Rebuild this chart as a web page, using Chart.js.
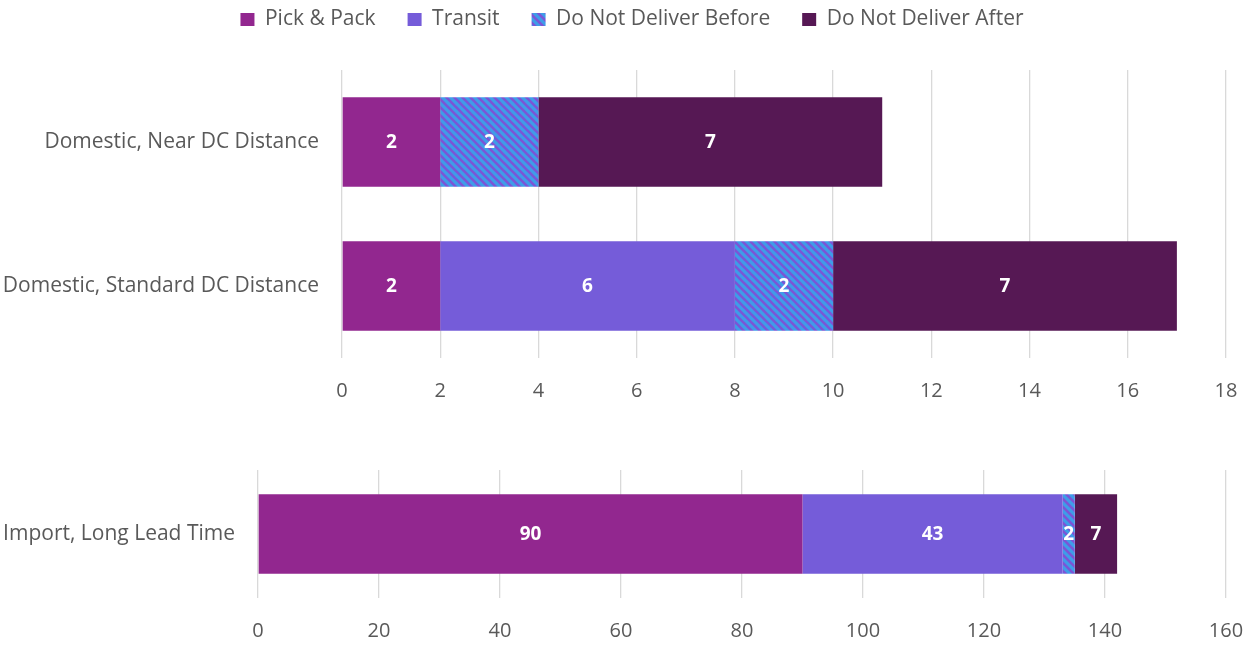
<!DOCTYPE html>
<html>
<head>
<meta charset="utf-8">
<script src="https://cdn.jsdelivr.net/npm/chart.js@4.4.0/dist/chart.umd.min.js"></script>
<style>
  html, body { margin: 0; padding: 0; background: #ffffff; overflow: hidden; }
  body { width: 1254px; height: 645px; position: relative; }
  .box { position: absolute; left: 0; width: 1254px; }
  #topBox { top: -29px; height: 459px; }
  #botBox { top: 460px; height: 205px; }
</style>
</head>
<body>
<div class="box" id="topBox"><canvas id="topChart"></canvas></div>
<div class="box" id="botBox"><canvas id="botChart"></canvas></div>
<script>
// ---- data ----
const seriesNames = ["Pick & Pack", "Transit", "Do Not Deliver Before", "Do Not Deliver After"];

const topCategories = ["Domestic, Near DC Distance", "Domestic, Standard DC Distance"];
const topPickPack = [2, 2];
const topTransit = [0, 6];
const topNotBefore = [2, 2];
const topNotAfter = [7, 7];
const topTicks = [0, 2, 4, 6, 8, 10, 12, 14, 16, 18];

const botCategories = ["Import, Long Lead Time"];
const botPickPack = [90];
const botTransit = [43];
const botNotBefore = [2];
const botNotAfter = [7];
const botTicks = [0, 20, 40, 60, 80, 100, 120, 140, 160];

// ---- styles ----
const FONT = "'Open Sans', 'Noto Sans', sans-serif";
const TEXT = '#595959';
const C_PICK = '#92278F';
const C_TRANSIT = '#755CD9';
const C_AFTER = '#561854';

function stripePattern() {
  const s = 8;
  const c = document.createElement('canvas');
  c.width = s; c.height = s;
  const g = c.getContext('2d');
  g.fillStyle = '#3E9DE8';
  g.fillRect(0, 0, s, s);
  g.strokeStyle = '#7B55D6';
  g.lineWidth = 2.6;
  for (const k of [-s, 0, s]) {
    g.beginPath();
    g.moveTo(k - 1, -1);
    g.lineTo(k + s + 1, s + 1);
    g.stroke();
  }
  return g.createPattern(c, 'repeat');
}
const PATTERN = stripePattern();

const valueLabels = {
  id: 'valueLabels',
  afterDatasetsDraw(chart) {
    const ctx = chart.ctx;
    ctx.save();
    ctx.fillStyle = '#ffffff';
    ctx.font = 'bold 19px ' + FONT;
    ctx.textAlign = 'center';
    ctx.textBaseline = 'middle';
    chart.data.datasets.forEach((ds, di) => {
      const meta = chart.getDatasetMeta(di);
      meta.data.forEach((el, i) => {
        const v = ds.data[i];
        if (!v) return;
        const p = el.getCenterPoint();
        ctx.fillText(String(v), p.x, p.y + 1);
      });
    });
    ctx.restore();
  }
};

// fixes the legend block height (so the plot area starts where wanted) and nudges it
function legendPlace(h, dx, dy) {
  return {
    id: 'legendPlace',
    beforeLayout(chart) {
      const lg = chart.legend;
      if (lg && !lg._fixedH) {
        const f = lg.fit.bind(lg);
        lg.fit = function () { f(); this.height = h; };
        lg._fixedH = true;
      }
    },
    afterLayout(chart) {
      const lg = chart.legend;
      if (lg) { lg.left += dx; lg.right += dx; lg.top += dy; lg.bottom += dy; }
    }
  };
}

function makeDatasets(pick, transit, before, after) {
  const arrs = [pick, transit, before, after];
  const colors = [C_PICK, C_TRANSIT, PATTERN, C_AFTER];
  return arrs.map((d, i) => ({
    label: seriesNames[i],
    data: d,
    backgroundColor: colors[i],
    borderWidth: 0,
    barPercentage: 0.623,
    categoryPercentage: 1.0
  }));
}

function makeOptions(opts) {
  return {
    indexAxis: 'y',
    responsive: true,
    maintainAspectRatio: false,
    animation: false,
    layout: { padding: opts.padding },
    plugins: {
      legend: opts.legend,
      tooltip: { enabled: false }
    },
    scales: {
      x: {
        stacked: true,
        min: opts.ticks[0],
        max: opts.ticks[opts.ticks.length - 1],
        afterBuildTicks: (scale) => { scale.ticks = opts.ticks.map(v => ({ value: v })); },
        grid: { color: '#D9D9D9', lineWidth: 1.3, drawTicks: false },
        border: { display: false },
        ticks: { color: TEXT, font: { family: FONT, size: 20 }, padding: 21 },
        afterFit: (scale) => { scale.paddingLeft = 0; scale.paddingRight = 0; }
      },
      y: {
        stacked: true,
        grid: { display: false, drawTicks: false },
        border: { display: false },
        ticks: { color: TEXT, font: { family: FONT, size: 21 }, padding: 23 },
        afterFit: (scale) => { scale.width = opts.yWidth; scale.paddingTop = 0; scale.paddingBottom = 0; }
      }
    }
  };
}

new Chart(document.getElementById('topChart'), {
  type: 'bar',
  data: { labels: topCategories, datasets: makeDatasets(topPickPack, topTransit, topNotBefore, topNotAfter) },
  options: makeOptions({
    ticks: topTicks,
    yWidth: 342,
    padding: { left: 0, right: 28, top: 0, bottom: 6 },
    legend: {
      display: true,
      position: 'top',
      labels: {
        boxWidth: 14,
        boxHeight: 13,
        padding: 32,
        color: TEXT,
        font: { family: FONT, size: 21 }
      }
    }
  }),
  plugins: [valueLabels, legendPlace(99, 19, 6)]
});

new Chart(document.getElementById('botChart'), {
  type: 'bar',
  data: { labels: botCategories, datasets: makeDatasets(botPickPack, botTransit, botNotBefore, botNotAfter) },
  options: makeOptions({
    ticks: botTicks,
    yWidth: 258,
    padding: { left: 0, right: 28, top: 10, bottom: 1 },
    legend: { display: false }
  }),
  plugins: [valueLabels]
});
</script>
</body>
</html>
